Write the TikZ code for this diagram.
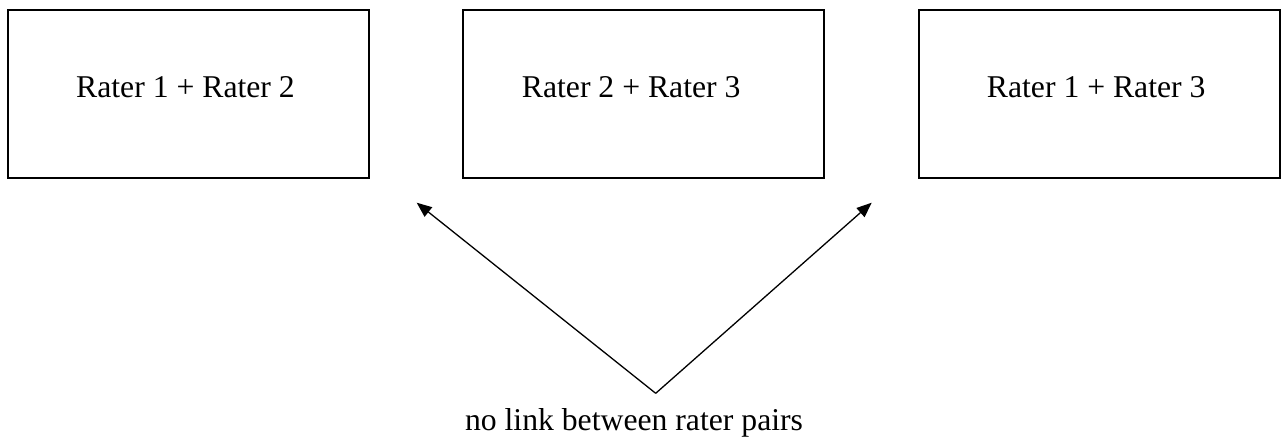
\documentclass[tikz,border=0pt]{standalone}
\usepackage{fontspec}
\setmainfont{Liberation Serif}
\usetikzlibrary{arrows.meta}
\begin{document}
\begin{tikzpicture}[x=1pt,y=-1pt,
  pairbox/.style={draw=black,line width=1.2pt},
  pairlabel/.style={anchor=base west,inner sep=0pt,font=\fontsize{31.7}{36}\selectfont},
  linkarrow/.style={draw=black,line width=1.3pt,-{Triangle[length=15pt,width=12pt]}}]
  \useasboundingbox (0,0) rectangle (1281,439);
  % three rater-pair boxes
  \draw[pairbox] (8,10) rectangle (369,178);
  \draw[pairbox] (463,10) rectangle (824,178);
  \draw[pairbox] (919,10) rectangle (1280,178);
  \node[pairlabel] (p12) at (76,97.7) {Rater 1 + Rater 2};
  \node[pairlabel] (p23) at (521.7,97.7) {Rater 2 + Rater 3};
  \node[pairlabel] (p13) at (986.7,97.7) {Rater 1 + Rater 3};
  % caption and the two arrows
  \node[pairlabel,anchor=base] (cap) at (634,430) {no link between rater pairs};
  \coordinate (v) at (655.7,393.3);
  \coordinate (tl) at (416.7,202.7);
  \coordinate (tr) at (871.7,202.7);
  \draw[linkarrow] (v) -- (tl);
  \draw[linkarrow] (v) -- (tr);
\end{tikzpicture}
\end{document}
